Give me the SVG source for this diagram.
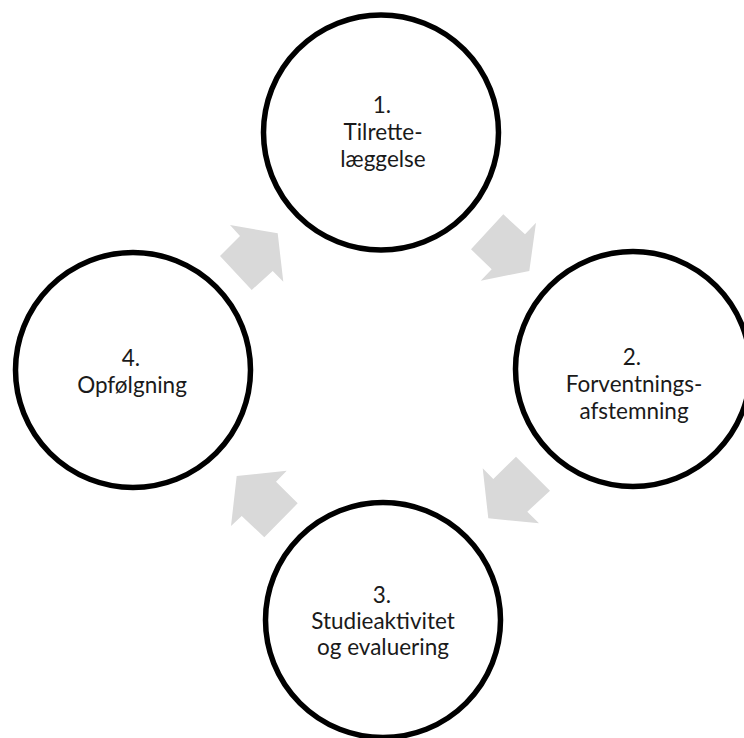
<svg xmlns="http://www.w3.org/2000/svg" width="744" height="738" viewBox="0 0 744 738">
<style>
.node{fill:#ffffff;stroke:#000000;stroke-width:5.5}
.lbl{font-family:Lato,"Open Sans","Liberation Sans",sans-serif;font-size:22.5px;fill:#1a1a1a;text-anchor:middle}
.arr{fill:#d9d9d9;stroke:none}
</style>
<rect width="744" height="738" fill="#ffffff"/>
<g id="connectors">
<polygon class="arr" points="471,249.3 503.3,214.3 525,234.3 536,222.7 529.3,271 480.7,280.7 491.7,269.3"/>
<polygon class="arr" points="516,456.7 550,490.7 527.3,511.7 539,523.3 488.3,518.3 482.7,468.3 493.3,479"/>
<polygon class="arr" points="297.7,503.3 264.3,537.3 241.7,516 231,526 236.7,476 286.7,470.7 276,481.7"/>
<polygon class="arr" points="220,256 240,236 230,225 277.7,233.3 283.3,281.7 272.7,271 251.7,290"/>
</g>
<g id="node1">
<circle class="node" cx="381" cy="132.5" r="117.5"/>
<text class="lbl" x="382" y="113">1.</text>
<text class="lbl" x="383" y="140">Tilrette-</text>
<text class="lbl" x="383" y="167">læggelse</text>
</g>
<g id="node2">
<circle class="node" cx="633" cy="369" r="117.5"/>
<text class="lbl" x="632" y="365">2.</text>
<text class="lbl" x="634" y="392">Forventnings-</text>
<text class="lbl" x="634" y="419">afstemning</text>
</g>
<g id="node3">
<circle class="node" cx="383" cy="620" r="117.5"/>
<text class="lbl" x="382" y="603">3.</text>
<text class="lbl" x="383" y="629">Studieaktivitet</text>
<text class="lbl" x="383" y="655">og evaluering</text>
</g>
<g id="node4">
<circle class="node" cx="133" cy="370" r="117.5"/>
<text class="lbl" x="131" y="366">4.</text>
<text class="lbl" x="132" y="393">Opfølgning</text>
</g>
</svg>
